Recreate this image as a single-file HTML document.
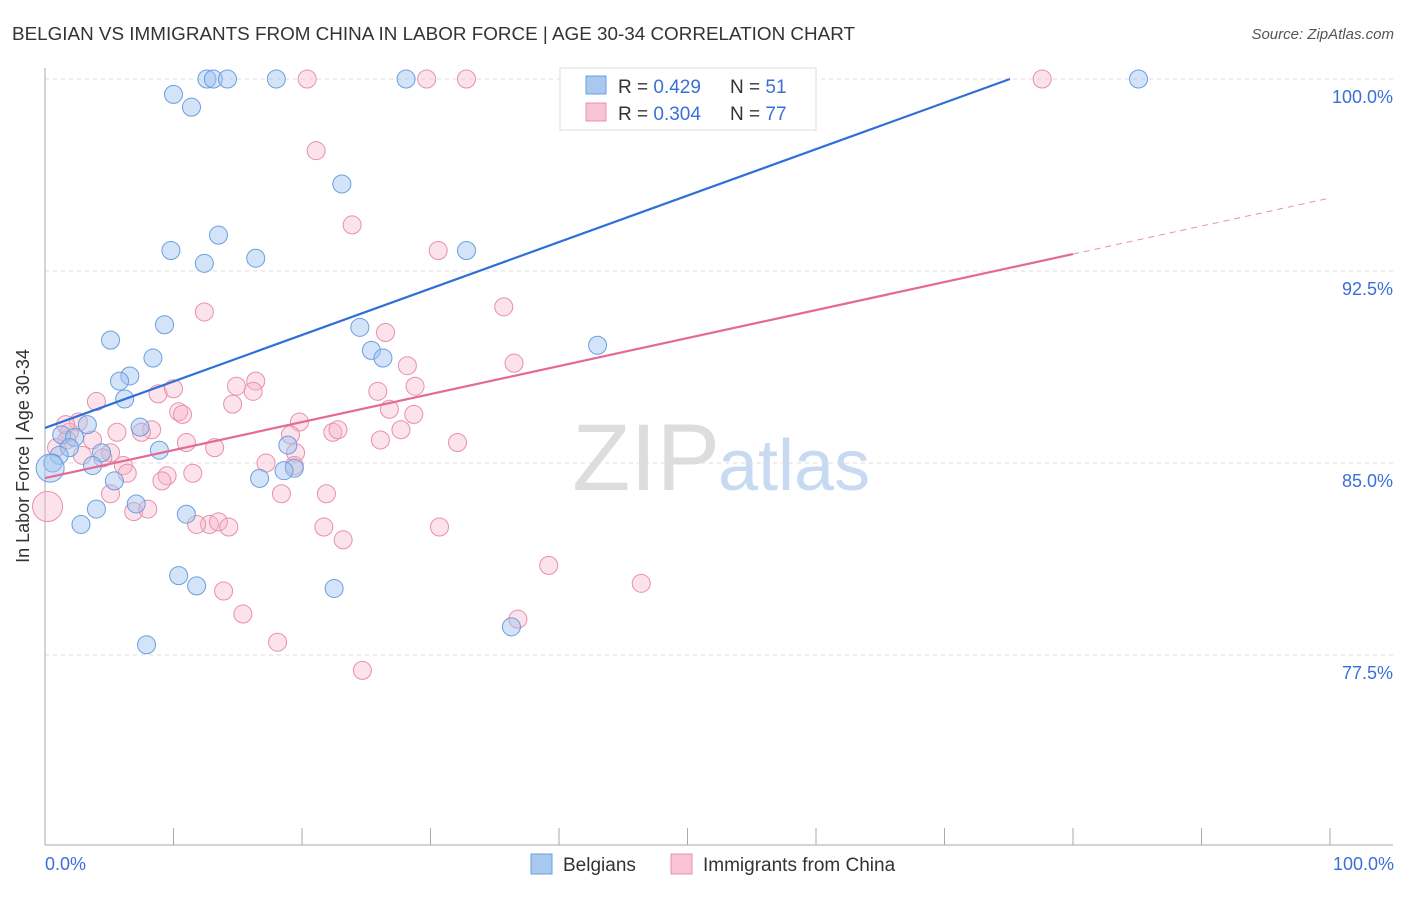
<!DOCTYPE html>
<html><head><meta charset="utf-8">
<style>
body{margin:0;background:#fff;font-family:"Liberation Sans",sans-serif;}
svg text{font-family:"Liberation Sans",sans-serif;}
</style></head>
<body>
<svg id="chart" width="1406" height="892">
<text x="12" y="40" font-size="18" fill="#333" textLength="843" lengthAdjust="spacingAndGlyphs">BELGIAN VS IMMIGRANTS FROM CHINA IN LABOR FORCE | AGE 30-34 CORRELATION CHART</text>
<text x="1394" y="39" font-size="15" fill="#555" font-style="italic" text-anchor="end">Source: ZipAtlas.com</text>
<text x="720" y="490" font-size="95" fill="#ddd" text-anchor="end" font-family="Liberation Serif">ZIP</text>
<text x="718" y="490" font-size="72" fill="#c8daf2">atlas</text>
<g id="grid"></g>
<g id="pts"></g>
<g id="lines"></g>
<text x="29" y="456" font-size="18" fill="#333" text-anchor="middle" transform="rotate(-90 29 456)">In Labor Force | Age 30-34</text>
<text x="45" y="870" font-size="18" fill="#3b6fd8">0.0%</text>
<text x="1394" y="870" font-size="18" fill="#3b6fd8" text-anchor="end">100.0%</text>
<g>
<rect x="560" y="68" width="256" height="62" fill="#fff" stroke="#ddd"/>
<rect x="586" y="76" width="20" height="18" fill="#a9c8f0" stroke="#6a9ee0"/>
<rect x="586" y="103" width="20" height="18" fill="#f8c4d3" stroke="#e890ab"/>
<text x="618" y="93" font-size="19" fill="#333">R = <tspan fill="#3b6fd8">0.429</tspan></text>
<text x="730" y="93" font-size="19" fill="#333">N = <tspan fill="#3b6fd8">51</tspan></text>
<text x="618" y="120" font-size="19" fill="#333">R = <tspan fill="#3b6fd8">0.304</tspan></text>
<text x="730" y="120" font-size="19" fill="#333">N = <tspan fill="#3b6fd8">77</tspan></text>
</g>
<g>
<rect x="531" y="854" width="21" height="20" fill="#a9c8f0" stroke="#6a9ee0"/>
<text x="563" y="871" font-size="19" fill="#333">Belgians</text>
<rect x="671" y="854" width="21" height="20" fill="#f8c4d3" stroke="#e890ab"/>
<text x="703" y="871" font-size="19" fill="#333">Immigrants from China</text>
</g>
</svg>
<script>
const yTicks=[100,92.5,85,77.5];
const yTickLabels=["100.0%","92.5%","85.0%","77.5%"];
const xTicks=[0,10,20,30,40,50,60,70,80,90,100];
const blueX=[12.6,13.1,14.2,18.0,28.1,52.2,85.1,10.0,11.4,23.1,9.8,13.5,12.4,16.4,32.8,9.3,24.5,5.1,43.0,8.4,25.4,26.3,6.6,5.8,6.2,3.3,7.4,1.3,2.3,1.9,8.9,1.1,4.4,0.6,0.4,3.7,18.9,19.4,18.6,5.4,16.7,4.0,7.1,11.0,2.8,10.4,11.8,22.5,36.3,7.9];
const blueY=[100,100,100,100,100,100,100,99.4,98.9,95.9,93.3,93.9,92.8,93.0,93.3,90.4,90.3,89.8,89.6,89.1,89.4,89.1,88.4,88.2,87.5,86.5,86.4,86.1,86.0,85.6,85.5,85.3,85.4,85.0,84.8,84.9,85.7,84.8,84.7,84.3,84.4,83.2,83.4,83.0,82.6,80.6,80.2,80.1,78.6,77.9];
const blueBig=[34];
const pinkX=[20.4,29.7,32.8,77.6,21.1,23.9,30.6,12.4,35.7,26.5,28.2,36.5,8.8,10.0,14.9,16.4,16.2,25.9,28.8,4.0,14.6,10.4,10.7,26.8,28.7,19.8,2.6,5.6,8.3,1.9,19.1,22.4,22.8,27.7,7.5,32.1,26.1,1.7,3.7,11.0,13.2,0.9,5.1,2.9,4.5,19.5,17.2,6.1,6.4,9.5,11.5,9.1,5.1,18.4,21.9,6.9,8.0,0.2,12.8,11.8,13.5,14.3,21.7,30.7,23.2,39.2,46.4,13.9,15.4,36.8,18.1,24.7,19.4,1.6];
const pinkY=[100,100,100,100,97.2,94.3,93.3,90.9,91.1,90.1,88.8,88.9,87.7,87.9,88.0,88.2,87.8,87.8,88.0,87.4,87.3,87.0,86.9,87.1,86.9,86.6,86.6,86.2,86.3,86.2,86.1,86.2,86.3,86.3,86.2,85.8,85.9,85.9,85.9,85.8,85.6,85.6,85.4,85.3,85.2,85.4,85.0,84.9,84.6,84.5,84.6,84.3,83.8,83.8,83.8,83.1,83.2,83.3,82.6,82.6,82.7,82.5,82.5,82.5,82.0,81.0,80.3,80.0,79.1,78.9,78.0,76.9,84.9,86.5];
const pinkBig=[57];
const blueTrend=[86.37,0.1815];
const pinkTrend=[84.41,0.1094];
const NS="http://www.w3.org/2000/svg";
const sx=v=>45+v*12.85;
const sy=v=>79+(100-v)*25.6;
function mk(tag,attrs,parent){const e=document.createElementNS(NS,tag);for(const k in attrs)e.setAttribute(k,attrs[k]);parent.appendChild(e);return e;}
const grid=document.getElementById('grid');
yTicks.forEach((t,i)=>{
 const l=mk('line',{x1:45,x2:1393,y1:sy(t),y2:sy(t),stroke:'#ddd','stroke-dasharray':'4,4'},grid);
 
 
 const tx=mk('text',{x:1393,y:sy(t)+24,'font-size':18,fill:'#3b6fd8','text-anchor':'end'},grid);
 tx.textContent=yTickLabels[i];
 
 
});
const ax=mk('line',{x1:45,x2:45,y1:68,y2:845,stroke:'#aaa'},grid);


const bx=mk('line',{x1:45,x2:1393,y1:845,y2:845,stroke:'#aaa'},grid);


xTicks.forEach(t=>{
 const l=mk('line',{x1:sx(t),x2:sx(t),y1:828,y2:845,stroke:'#aaa'},grid);
 
 
});
const pts=document.getElementById('pts');
pinkX.forEach((x,i)=>{
 const c=mk('circle',{cx:sx(x),cy:sy(pinkY[i]),r:pinkBig.includes(i)?15:9,fill:'rgba(246,178,200,0.38)',stroke:'#e890ab','stroke-width':1},pts);
 
 
});
blueX.forEach((x,i)=>{
 const c=mk('circle',{cx:sx(x),cy:sy(blueY[i]),r:blueBig.includes(i)?14:9,fill:'rgba(160,196,240,0.45)',stroke:'#6a9ee0','stroke-width':1},pts);
 
 
});
const lines=document.getElementById('lines');
const bEnd=(100-blueTrend[0])/blueTrend[1];
const bl=mk('line',{x1:sx(0),y1:sy(blueTrend[0]),x2:sx(bEnd),y2:sy(100),stroke:'#2f6fd6','stroke-width':2.2},lines);


const pl=mk('line',{x1:sx(0),y1:sy(pinkTrend[0]),x2:sx(80),y2:sy(pinkTrend[0]+80*pinkTrend[1]),stroke:'#e46a96','stroke-width':2.2},lines);


const pd=mk('line',{x1:sx(80),y1:sy(pinkTrend[0]+80*pinkTrend[1]),x2:sx(100),y2:sy(pinkTrend[0]+100*pinkTrend[1]),stroke:'#e890ab','stroke-width':1,'stroke-dasharray':'6,5'},lines);


</script>
</body></html>
